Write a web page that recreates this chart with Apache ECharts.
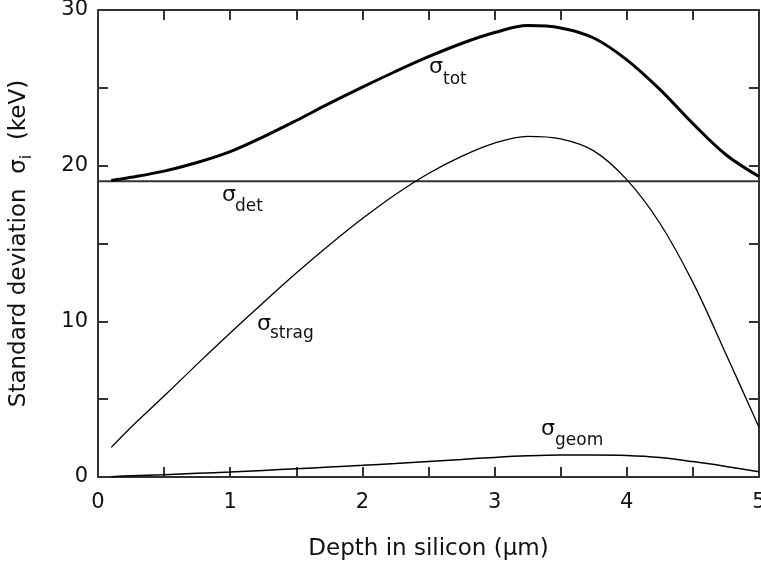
<!DOCTYPE html>
<html>
<head>
<meta charset="utf-8">
<script src="https://cdn.jsdelivr.net/npm/echarts@6/dist/echarts.min.js"></script>
<style>
html,body{margin:0;padding:0;background:#fff;}
#chart{width:761px;height:569px;}
</style>
</head>
<body>
<div id="chart"></div>
<script>
// Depth in silicon (µm)
const depth = [0.1, 0.25, 0.5, 0.75, 1.0, 1.25, 1.5, 1.75, 2.0, 2.25, 2.5, 2.75, 3.0, 3.25, 3.5, 3.75, 4.0, 4.25, 4.5, 4.75, 5.0];
// sigma_tot (keV)
const sigmaTot = [19.05, 19.25, 19.65, 20.2, 20.9, 21.85, 22.9, 24.0, 25.05, 26.05, 27.0, 27.85, 28.55, 29.0, 28.85, 28.2, 26.8, 24.9, 22.7, 20.7, 19.3];
// sigma_strag (keV)
const sigmaStrag = [1.9, 3.2, 5.2, 7.25, 9.25, 11.2, 13.1, 14.9, 16.6, 18.15, 19.5, 20.6, 21.45, 21.88, 21.72, 20.95, 19.1, 16.3, 12.5, 7.9, 3.2];
// sigma_geom (keV)
const sigmaGeom = [0.02, 0.08, 0.15, 0.24, 0.32, 0.42, 0.53, 0.64, 0.75, 0.87, 1.0, 1.13, 1.26, 1.36, 1.41, 1.41, 1.38, 1.25, 0.99, 0.68, 0.34];
// sigma_det (keV), constant
const detDepth = [0, 5];
const sigmaDet = [19, 19];

const xTickLabels = ['0', '1', '2', '3', '4', '5'];
const yTickLabels = ['0', '10', '20', '30'];

const FONT = 'DejaVu Sans';
const AX = '#333';

function pairs(xs, ys) { return xs.map((x, i) => [x, ys[i]]); }

const chart = echarts.init(document.getElementById('chart'), null, {renderer: 'canvas'});

const axisCommon = {
  axisLine: {show: true, onZero: false, lineStyle: {color: AX, width: 2}},
  axisTick: {show: true, inside: true, length: 10, lineStyle: {color: AX, width: 2}},
  splitLine: {show: false},
  minorTick: {show: false}
};

const option = {
  animation: false,
  backgroundColor: '#fff',
  grid: {left: 98, top: 10, width: 661, height: 467, containLabel: false, outerBoundsMode: 'none'},
  xAxis: [
    Object.assign({}, axisCommon, {
      type: 'value', min: 0, max: 5, interval: 0.5, position: 'bottom',
      axisLabel: {
        show: true, margin: 15, color: '#111', fontFamily: FONT, fontSize: 21,
        formatter: v => xTickLabels.includes(String(v)) ? String(v) : ''
      },
      name: 'Depth in silicon (μm)', nameLocation: 'middle', nameGap: 61,
      nameTextStyle: {color: '#111', fontFamily: FONT, fontSize: 23}
    }),
    Object.assign({}, axisCommon, {
      type: 'value', min: 0, max: 5, interval: 0.5, position: 'top',
      axisLabel: {show: false}
    })
  ],
  yAxis: [
    Object.assign({}, axisCommon, {
      type: 'value', min: 0, max: 30, interval: 5, position: 'left',
      axisLabel: {
        show: true, margin: 10, color: '#111', fontFamily: FONT, fontSize: 21,
        formatter: v => yTickLabels.includes(String(v)) ? String(v) : ''
      },
      name: '{a|Standard deviation  σ}{b|i}{a|  (keV)}',
      nameLocation: 'middle', nameGap: 63, nameRotate: 90,
      nameTextStyle: {
        color: '#111', fontFamily: FONT, fontSize: 23,
        rich: {
          a: {fontFamily: FONT, fontSize: 23, color: '#111', lineHeight: 32, verticalAlign: 'middle'},
          b: {fontFamily: FONT, fontSize: 16, color: '#111', lineHeight: 32, verticalAlign: 'bottom'}
        }
      }
    }),
    Object.assign({}, axisCommon, {
      type: 'value', min: 0, max: 30, interval: 5, position: 'right',
      axisLabel: {show: false}
    })
  ],
  series: [
    {
      name: 'det', type: 'line', xAxisIndex: 0, yAxisIndex: 0,
      data: pairs(detDepth, sigmaDet), showSymbol: false,
      lineStyle: {color: '#333', width: 2}, z: 3
    },
    {
      name: 'tot', type: 'line', xAxisIndex: 0, yAxisIndex: 0,
      data: pairs(depth, sigmaTot), showSymbol: false, smooth: 0.35,
      lineStyle: {color: '#000', width: 3}, z: 4
    },
    {
      name: 'strag', type: 'line', xAxisIndex: 0, yAxisIndex: 0,
      data: pairs(depth, sigmaStrag), showSymbol: false, smooth: 0.35,
      lineStyle: {color: '#000', width: 1.3}, z: 4
    },
    {
      name: 'geom', type: 'line', xAxisIndex: 0, yAxisIndex: 0,
      data: pairs(depth, sigmaGeom), showSymbol: false, smooth: 0.35,
      lineStyle: {color: '#000', width: 1.5}, z: 4
    }
  ],
  graphic: [
    {type: 'text', left: 429, top: 56, style: {text: 'σ', font: '22px "DejaVu Sans"', fill: '#111'}},
    {type: 'text', left: 443, top: 71, style: {text: 'tot', font: '17px "DejaVu Sans"', fill: '#111'}},
    {type: 'text', left: 222, top: 184, style: {text: 'σ', font: '22px "DejaVu Sans"', fill: '#111'}},
    {type: 'text', left: 235, top: 198, style: {text: 'det', font: '17px "DejaVu Sans"', fill: '#111'}},
    {type: 'text', left: 257, top: 313, style: {text: 'σ', font: '22px "DejaVu Sans"', fill: '#111'}},
    {type: 'text', left: 270, top: 325, style: {text: 'strag', font: '17px "DejaVu Sans"', fill: '#111'}},
    {type: 'text', left: 541, top: 418, style: {text: 'σ', font: '22px "DejaVu Sans"', fill: '#111'}},
    {type: 'text', left: 555, top: 432, style: {text: 'geom', font: '17px "DejaVu Sans"', fill: '#111'}}
  ]
};

chart.setOption(option);
</script>
</body>
</html>
